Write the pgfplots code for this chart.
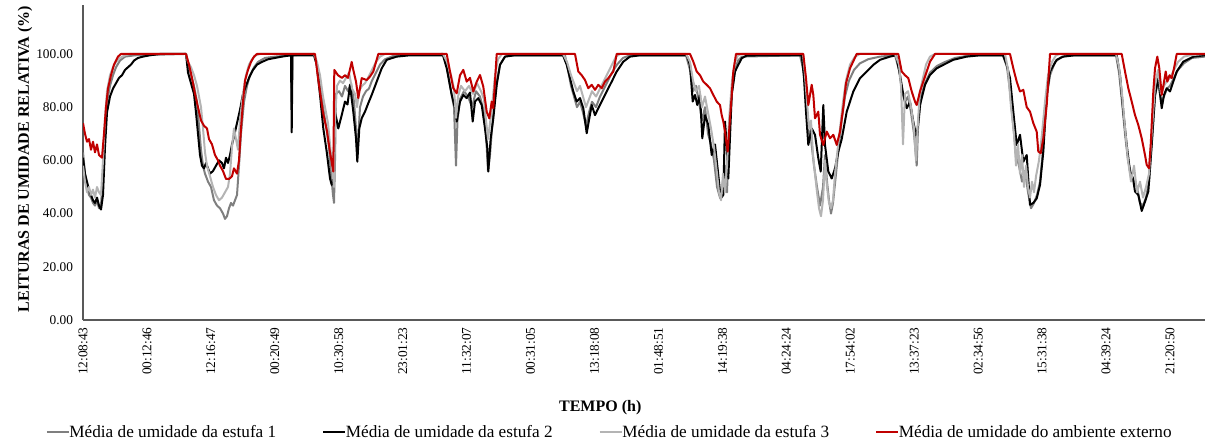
\documentclass[border=0pt]{standalone}
\usepackage{pgfplots}
\pgfplotsset{compat=1.18}
\usepackage{fontspec}
\setmainfont{Liberation Serif}
\definecolor{eone}{HTML}{7F7F7F}
\definecolor{etwo}{HTML}{000000}
\definecolor{ethree}{HTML}{B4B4B4}
\definecolor{ered}{HTML}{C00000}
\begin{document}
\begin{tikzpicture}
\useasboundingbox (0,0) rectangle (903.75pt,330.75pt);
\begin{axis}[
  at={(62.25pt,90.75pt)}, anchor=south west,
  scale only axis, width=841.5pt, height=236.25pt,
  xmin=83, xmax=1205, ymin=0, ymax=118.4,
  axis x line=bottom, axis y line=left,
  axis line style={-, black!65, line width=1.1pt},
  major tick length=0pt,
  ytick={0,20,40,60,80,100},
  yticklabel style={font=\fontsize{10}{12}\selectfont, xshift=-4pt,
    /pgf/number format/.cd, fixed, fixed zerofill, precision=2, assume math mode=true},
  xtick={83,146.94,210.88,274.82,338.76,402.7,466.64,530.58,594.52,658.46,722.4,786.34,850.28,914.22,978.16,1042.1,1106.04,1169.98},
  xticklabels={12:08:43,00:12:46,12:16:47,00:20:49,10:30:58,23:01:23,11:32:07,00:31:05,13:18:08,01:48:51,14:19:38,04:24:24,17:54:02,13:37:23,02:34:56,15:31:38,04:39:24,21:20:50},
  xticklabel style={font=\fontsize{10}{12}\selectfont, rotate=90, anchor=east, yshift=0pt, xshift=-2pt},
  xlabel={\textbf{TEMPO (h)}},
  xlabel style={font=\fontsize{12}{14}\selectfont, at={(axis description cs:0.461,-0.279)}, anchor=center},
  ylabel={\textbf{LEITURAS DE UMIDADE RELATIVA (\%)}},
  ylabel style={font=\fontsize{12}{14}\selectfont, at={(axis description cs:-0.0517,0.511)}, anchor=center, rotate=0},
  legend columns=4,
  legend style={draw=none, fill=none, at={(axis description cs:0.4697,-0.356)}, anchor=center,
    font=\fontsize{12.9}{15}\selectfont,
    /tikz/every odd column/.append style={column sep=-2.25pt},
    /tikz/every even column/.append style={column sep=32.5pt}},
  legend image code/.code={\draw[#1] (0pt,0pt) -- (16.5pt,0pt);},
  every axis plot/.append style={line width=1.5pt, line join=round, no markers},
]
\addplot[eone] table {
83 63
85 55
87 50
89 47
91 46
93 44
95 43
97 45
99 42
101 43
103 55
105 72
107 82
110 88
113 92
116 95
120 97.5
125 99
135 99.5
186 100
188 96
191 92
194 88
197 82
199 73
201 64
203 58
205 55
208 52
211 50
214 45
217 43
220 42
223 40
225 38
227 39
229 42
231 44
233 43
235 45
237 47
239 58
241 70
244 82
247 88
250 92
254 95
258 97
265 98.5
275 99
291 99.5
291.7 82
292.5 99.5
314 100
317 96
320 90
323 80
326 73
329 65
331 55
333 47
334 44
335 60
336 85
339 86
342 84
345 88
348 86
351 89
354 82
356 72
357.3 62
358.5 70
360 80
363 84
366 86
369 87
372 90
376 93
380 96
385 98
395 99.5
443 100
447 95
451 86
454 80
456 58
457.5 75
460 83
464 86
468 84
472 80
476 86
480 84
484 78
486 70
488 56
490 62
492 72
494 80
497 90
500 96
505 99
510 99.5
565 99.5
568 94
571 88
574 84
577 80
580 82
583 78
586 73
589 78
592 82
596 80
600 84
604 87
608 90
612 93
617 96
623 98.5
630 99.5
686 99.5
690 94
693 86
696 88
699 82
702 75
705 80
708 70
711 66
714 60
717 50
720 46
723 52
725 58
727 48
729 68
732 86
735 94
738 97.5
742 99
800 99.5
804 93
806 84
808 72
811 68
814 58
817 50
820 43
823 50
825 62
827 52
829 45
831 40
833 44
836 55
839 66
842 76
845 84
849 90
854 94
860 96.5
868 98
880 99
895 99.5
899 94
902 86
905 82
908 84
911 78
914 70
916.7 58
918 72
921 84
925 89
930 93
937 95.5
945 97
955 98.5
970 99.5
1003 99.5
1007 95
1010 86
1013 74
1016 62
1019 58
1022 52
1025 56
1028 48
1031 42
1034 44
1037 47
1040 52
1043 64
1046 82
1050 92
1055 97
1062 99
1070 99.5
1116 99.5
1119 93
1122 82
1125 70
1128 60
1131 55
1134 52
1137 50
1140 44
1143 43
1146 46
1149 52
1152 68
1155 84
1158 90
1161 82
1164 84
1167 87
1170 88
1174 91
1178 94
1184 96.5
1192 98.5
1205 99
};
\addlegendentry{Média de umidade da estufa 1}
\addplot[etwo] table {
83 61
85 55
87 52
89 49
91 47
93 45
95 44
97 46
99 43
101 41.5
103 47
105 65
107 78
110 84
113 87
116 89
119 91
122 92
125 94
128 95
131 96
134 97.5
138 98.5
143 99
150 99.5
160 100
186 100
188 93
191 89
194 85
196 78
198 70
200 62
202 58
204 57
206 59
208 57
210 55
213 56
216 58
219 60
222 59
224 57
226 61
228 59
230 62
232 66
234 69
237 74
240 79
243 85
246 88
249 91
253 94
257 96
262 97
268 98
275 98.5
282 99
291 99.5
291.7 70.5
292.5 99.5
314 99.5
316.7 95.9
320 84.6
323.3 72
326.7 63.3
330 53.2
331.7 50.8
333 52
335 78.3
338.3 72
341.7 77
345 82.1
347.5 81
350 88.4
353.3 78.3
356 68.3
357.3 59.5
359.3 72
361.7 75.8
365 78.3
368.3 81.5
371.7 84.6
376.7 89.6
381.7 94.6
386.7 97.8
396.7 99
410 99.5
443 99.5
446.7 94.6
451.7 84.6
455 79.6
456.7 74.6
460 82.1
463.3 84.6
466.7 83.4
470 85.5
472.7 74.6
475 82.1
478.3 83.4
481.7 80.8
485 72
487.3 64.6
488.3 55.8
490.7 68.3
493.3 75.8
496.7 88.4
500 95.9
505 99
515 99.5
563 99.5
566.7 95.9
570 90.9
573.3 85.9
576.7 82.1
580 83.4
583.3 79.6
586.7 70.2
589.3 75.8
591.7 80.8
595 77
598.3 79.6
601.7 82.1
606.7 85.9
611.7 89.6
616.7 93.4
623.3 97.1
630 99
640 99.5
686.7 99.5
690 95.9
692.7 82.1
695 84.6
697.3 80.8
700 84.6
702.3 68.3
705 77
708.3 73.3
711.7 62
715 66
718.3 54.5
720.7 45.7
723.3 47
725 74.6
726.7 65.8
728.3 53.2
731.7 84.6
735 93.4
738.3 95.9
741.7 98.4
746.7 99.4
801.7 99.5
804 90.9
806 78.3
808.3 65.8
811.7 72
815 69.6
818.3 60.8
820.7 55.8
823.3 80.8
825 65.8
828.3 55.8
831.7 53.2
835 57
838.3 63.3
841.7 68
846.7 78.3
853.3 85.9
860 90.9
866.7 93.4
873.3 95.9
880 97.8
890 99
896 99.5
900 92.1
903.3 84.6
906.7 79.6
910 82
913.3 74.6
916.7 68.3
920 80.8
925 88.4
930 92.1
936.7 94.6
943.3 95.9
953.3 97.8
966.7 99
980 99.5
1003 99.5
1006.7 95.9
1010 90.9
1013.3 78.3
1016.7 65.8
1020 69.6
1023.3 59.5
1026.7 62
1030 43.3
1033.3 44
1036.7 45.7
1040 50.8
1043.3 63.3
1046.7 84.6
1050 93.4
1056.7 97.8
1063.3 99
1075 99.5
1116.7 99.5
1120 92.1
1123.3 78.3
1126.7 65.8
1130 55.8
1133 53.2
1135 48.3
1138.3 47
1141.7 41
1145 44.5
1148.3 48.3
1151.7 65.8
1155 84.6
1158.3 90.9
1161.7 79.6
1164 84.6
1166.7 87.1
1170 85.9
1173.3 89.6
1176.7 93.4
1183.3 97.1
1193.3 99
1205 99.5
};
\addlegendentry{Média de umidade da estufa 2}
\addplot[ethree] table {
83 58
85 52
87 48
89 50
91 47
93 49
95 46
97 50
99 48
101 47
103 60
105 76
107 86
110 92
113 95
116 97
120 98.5
125 99.5
130 100
186 100
188 97
191 95
194 92
197 88
199 84
201 80
203 72
205 63
207 58
210 54
213 50
216 47
219 45
222 46
225 48
228 50
230 55
232 65
234 72
236 68
238 64
240 75
243 85
246 92
249 96
252 98
256 99.5
260 100
314 100
317 97
320 92
323 84
326 78
328 74
330 66
332 58
334 50
335 75
337 88
340 90
343 89
346 91
349 93
352 87
355 85
357 80
359 86
362 88
365 89
368 91
372 94
376 97
380 99
385 100
443 100
447 97
451 92
454 87
456 76
458 84
461 88
465 86
469 88
473 85
477 89
481 86
484 83
486 75
488 68
490 74
492 80
495 92
498 98
502 100
563 100
567 97
571 92
574 89
577 86
580 88
583 84
586 80
589 83
592 86
596 84
600 87
604 90
608 93
612 96
616 99
620 100
686 100
690 97
693 90
696 86
699 88
702 80
705 84
708 78
711 72
714 65
717 55
719 48
721 45
723 55
725 48
727 58
729 75
732 90
735 97
738 99.5
742 100
803 100
805 92
807 82
809 72
811 75
813 62
815 55
817 48
819 42
821 39
823 45
825 60
827 50
829 44
831 42
833 45
835 55
837 62
840 72
843 82
846 90
850 96
855 99
860 100
895 100
899 96
901 88
903 66
905 85
908 86
911 80
914 72
916 60
918 75
920 86
923 91
926 96
930 99
935 100
1005 100
1008 94
1011 80
1014 70
1016 58
1018 66
1020 55
1022 62
1024 50
1026 58
1028 50
1030 46
1032 52
1034 48
1036 54
1039 60
1042 70
1045 82
1048 92
1052 97
1056 99.5
1060 100
1116 100
1119 95
1122 85
1125 72
1128 60
1131 52
1134 58
1137 48
1140 52
1143 46
1146 50
1149 55
1152 72
1155 88
1158 94
1161 85
1164 88
1167 90
1170 91
1174 94
1178 97
1184 99
1190 99.5
1205 100
};
\addlegendentry{Média de umidade da estufa 3}
\addplot[ered] table {
83 74
85 70
87 67
89 68
91 64
93 67
95 63
97 66
99 62
102 61
104 70
106 80
108 87
111 92
114 96
118 99
121 100
186 100
189 96
192 91
195 85
198 80
201 75
204 73
207 72
209 68
212 66
215 62
218 60
220 58
223 56
226 53
229 53
232 54
234 57
237 55
239 60
241 72
243 82
245 90
248 94
251 97
254 99
257 100
315 100
318 91
323 78
327 71
330 63
333.3 55.8
334.3 94
338 92
342 91
345 92
348 91
351.7 97
353.3 94
356 89.6
358.3 83.4
361.7 90.9
366.7 90.2
370 91.5
373.3 93.4
378.3 100
446.7 100
450 93.4
453.3 87.1
456.7 85.2
460 92
463.3 94
466.7 89.6
470 91
473.3 85.9
476.7 89.6
480 92.1
483.3 87.7
486.7 78.3
489.3 75.8
491.7 82.1
493.3 79.6
496.7 100
575 100
578.3 93.4
581.7 92
585 90.2
588.3 87.1
591.7 88.4
595 86.5
598.3 88.4
601.7 87.1
605 89.6
608.3 90.9
613.3 93.4
616.7 100
690 100
693.3 97.1
696.7 93.4
700 92
703.3 89.6
706.7 88.4
710 87.1
713.3 84.6
716.7 82.1
720 80.8
721.7 77
723.3 74.6
725 70.8
726.7 65.8
727.7 63.3
729.3 72
731.7 84.6
733.3 93.4
736 100
803.3 100
806 90.9
808.3 80.8
811.7 88.4
813.3 84.6
815 75.8
818.3 78.3
820 69.6
823.3 65.8
826.7 70.8
830 68.3
833.3 69.6
836.7 65.8
840 70.8
843.3 80
846 89
850 94.6
856.7 100
898.3 100
901.7 93.4
905 92
908.3 90.9
911.7 85.9
915 82.1
916.7 80.8
920 85.9
923.3 89.6
926.7 93.4
930 97.1
935 100
1010 100
1013.3 94.6
1016.7 89.6
1020 85.9
1023.3 86.5
1026.7 80
1030 78.3
1033.3 74
1036.7 70.8
1038.3 63.3
1040.7 62.7
1043.3 68.3
1046.7 80.8
1050 100
1121.7 100
1125 93.4
1128.3 87.1
1131.7 82.1
1135 77
1138.3 73.3
1141.7 68.3
1145 62
1146.7 58.3
1149 57
1150.7 65.8
1153.3 85.9
1155 94.6
1157.3 99
1159.3 94.6
1161.7 84.6
1163.5 88.4
1165.7 93.4
1167.3 89.6
1169.5 92
1171.7 90.9
1174 94.6
1176.7 100
1205 100
};
\addlegendentry{Média de umidade do ambiente externo}
\end{axis}
\end{tikzpicture}
\end{document}
